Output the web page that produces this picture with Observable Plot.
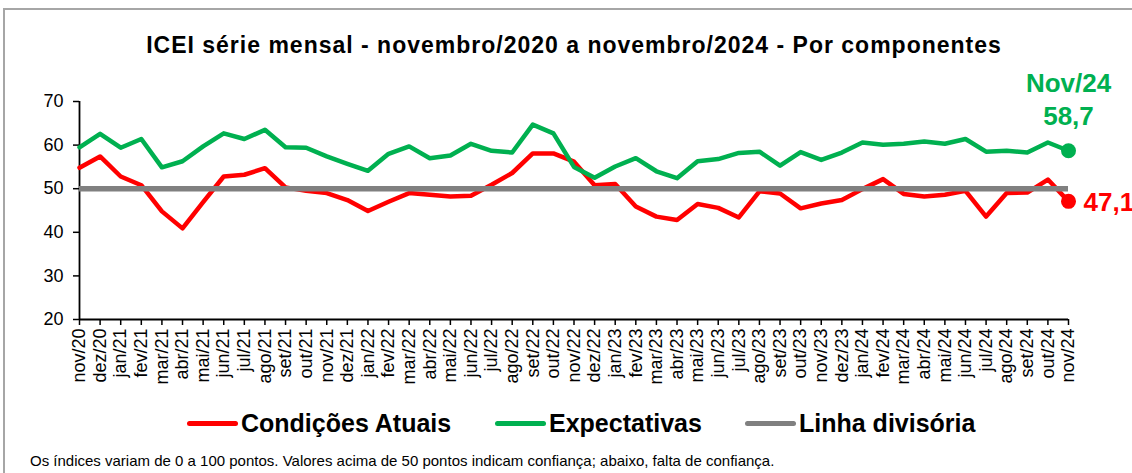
<!DOCTYPE html>
<html>
<head>
<meta charset="utf-8">
<script src="https://cdn.jsdelivr.net/npm/d3@7"></script>
<script src="https://cdn.jsdelivr.net/npm/@observablehq/plot@0.6"></script>
<style>
  html, body { margin: 0; padding: 0; background: #fff; overflow: hidden; }
  body { width: 1132px; height: 473px; position: relative; font-family: "Liberation Sans", Arial, sans-serif; color: #000; }
  #frame { position: absolute; left: 3px; top: 8px; width: 1140px; height: 480px; border: 2px solid #a6a6a6; box-sizing: border-box; }
  #title { position: absolute; left: 0; width: 1148px; top: 33px; text-align: center; font-size: 23px; line-height: 24px; font-weight: bold; letter-spacing: 1.0px; white-space: nowrap; }
  #chart { position: absolute; left: 0; top: 0; }
  .leg { position: absolute; top: 411px; height: 25px; display: flex; align-items: center; font-size: 25px; line-height: 25px; font-weight: bold; white-space: nowrap; }
  .sw { display: inline-block; width: 51px; height: 5px; border-radius: 3px; margin-right: 3px; }
  #note { position: absolute; left: 30px; top: 453px; font-size: 15px; line-height: 15px; white-space: nowrap; }
</style>
</head>
<body>
<div id="frame"></div>
<div id="chart"></div>
<div id="title">ICEI série mensal - novembro/2020 a novembro/2024 - Por componentes</div>
<div id="legend"></div>
<div id="note">Os índices variam de 0 a 100 pontos. Valores acima de 50 pontos indicam confiança; abaixo, falta de confiança.</div>
<script>
const MESES = ["nov/20","dez/20","jan/21","fev/21","mar/21","abr/21","mai/21","jun/21","jul/21","ago/21","set/21","out/21",
  "nov/21","dez/21","jan/22","fev/22","mar/22","abr/22","mai/22","jun/22","jul/22","ago/22","set/22","out/22",
  "nov/22","dez/22","jan/23","fev/23","mar/23","abr/23","mai/23","jun/23","jul/23","ago/23","set/23","out/23",
  "nov/23","dez/23","jan/24","fev/24","mar/24","abr/24","mai/24","jun/24","jul/24","ago/24","set/24","out/24","nov/24"];

const CONDICOES_ATUAIS = [54.8, 57.4, 52.8, 50.8, 44.8, 40.9, 46.9, 52.8, 53.2, 54.7, 50.3, 49.5,
  49.0, 47.4, 44.9, 47.0, 49.0, 48.6, 48.2, 48.4, 50.9, 53.6, 58.1, 58.1,
  56.2, 50.8, 51.1, 45.9, 43.6, 42.8, 46.5, 45.6, 43.4, 49.4, 48.9, 45.5,
  46.6, 47.4, 49.9, 52.2, 48.8, 48.2, 48.6, 49.5, 43.6, 49.0, 49.1, 52.1, 47.1];

const EXPECTATIVAS = [59.5, 62.6, 59.4, 61.4, 54.9, 56.3, 59.7, 62.7, 61.4, 63.5, 59.5, 59.4,
  57.4, 55.7, 54.1, 58.0, 59.7, 57.0, 57.6, 60.3, 58.7, 58.3, 64.7, 62.7,
  55.0, 52.5, 55.1, 57.0, 54.0, 52.4, 56.3, 56.8, 58.2, 58.5, 55.3, 58.4,
  56.6, 58.3, 60.6, 60.1, 60.3, 60.8, 60.3, 61.4, 58.5, 58.7, 58.3, 60.6, 58.7];

const LINHA_DIVISORIA = 50;
const Y_TICKS = [20, 30, 40, 50, 60, 70];
const SERIES = ["Condições Atuais", "Expectativas", "Linha divisória"];
const CORES = ["#FF0000", "#00B050", "#808080"];
const ULTIMO_LABEL = "Nov/24";
const fmt = v => v.toFixed(1).replace(".", ",");

const cond = MESES.map((m, i) => ({mes: m, v: CONDICOES_ATUAIS[i]}));
const expc = MESES.map((m, i) => ({mes: m, v: EXPECTATIVAS[i]}));
const last = MESES.length - 1;
const lastCond = [cond[last]];
const lastExp = [expc[last]];
const primeiro = () => MESES[0];
const ultimo = () => MESES[last];

const chart = Plot.plot({
  width: 1132,
  height: 400,
  marginLeft: 79,
  marginRight: 64,
  marginTop: 101,
  marginBottom: 81,
  x: {type: "point", domain: MESES, padding: 0, round: false},
  y: {domain: [20, 70]},
  style: {fontFamily: "'Liberation Sans', Arial, sans-serif", color: "#000", background: "transparent", overflow: "visible"},
  marks: [
    Plot.axisY({ticks: Y_TICKS, tickSize: 6, tickPadding: 10, fontSize: 18, label: null, stroke: "#000", strokeWidth: 1.5}),
    Plot.axisX({tickSize: 6, tickPadding: 3, tickRotate: -90, fontSize: 18, label: null, stroke: "#000", strokeWidth: 1.5}),
    Plot.ruleX([MESES[0]], {y1: 20, y2: 70, stroke: "#000", strokeWidth: 1.8}),
    Plot.ruleY([20], {x1: primeiro, x2: ultimo, stroke: "#000", strokeWidth: 1.8}),
    Plot.line(cond, {x: "mes", y: "v", stroke: CORES[0], strokeWidth: 4.5, strokeLinejoin: "round", strokeLinecap: "round"}),
    Plot.line(expc, {x: "mes", y: "v", stroke: CORES[1], strokeWidth: 4.5, strokeLinejoin: "round", strokeLinecap: "round"}),
    Plot.ruleY([LINHA_DIVISORIA], {x1: primeiro, x2: ultimo, stroke: CORES[2], strokeWidth: 5.5}),
    Plot.dot(lastCond, {x: "mes", y: "v", r: 7.5, fill: CORES[0]}),
    Plot.dot(lastExp, {x: "mes", y: "v", r: 7.5, fill: CORES[1]}),
    Plot.text(lastExp, {x: "mes", y: "v", text: () => ULTIMO_LABEL, dy: -67, fill: CORES[1], fontSize: 26, fontWeight: "bold"}),
    Plot.text(lastExp, {x: "mes", y: "v", text: d => fmt(d.v), dy: -34, fill: CORES[1], fontSize: 26, fontWeight: "bold"}),
    Plot.text(lastCond, {x: "mes", y: "v", text: d => fmt(d.v), dx: 15, dy: 1, textAnchor: "start", fill: CORES[0], fontSize: 26, fontWeight: "bold"})
  ]
});
document.getElementById("chart").appendChild(chart);

const LEG_LEFT = [187, 495, 745];
const legend = document.getElementById("legend");
SERIES.forEach((s, i) => {
  const d = document.createElement("div");
  d.className = "leg";
  d.style.left = LEG_LEFT[i] + "px";
  const sw = document.createElement("span");
  sw.className = "sw";
  sw.style.background = CORES[i];
  d.appendChild(sw);
  d.appendChild(document.createTextNode(s));
  legend.appendChild(d);
});
</script>
</body>
</html>
